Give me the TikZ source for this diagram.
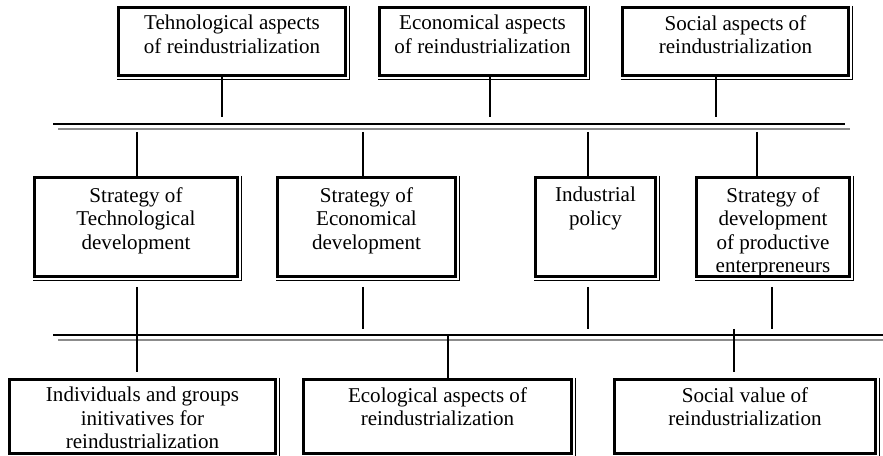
\documentclass[tikz,border=0pt]{standalone}
\usepackage{fontspec}
\setmainfont{Liberation Serif}
\usetikzlibrary{calc}

\tikzset{
  box/.style={draw, line width=2pt, inner sep=0pt},
  boxtext/.style={anchor=north, align=center, inner sep=0pt, font=\fontsize{15.8}{17.6}\selectfont},
  rim/.style={line width=0.6pt},
  link/.style={line width=1pt},
  busline/.style={line width=1.1pt},
  busshade/.style={line width=1.1pt, black!45},
}

\begin{document}
\begin{tikzpicture}[x=0.75pt,y=0.75pt,yscale=-1,xscale=1]
\useasboundingbox (0,0) rectangle (883,456);

%Shape: top row boxes
\node[box, minimum width=170.5pt, minimum height=51.25pt] (tech) at (232,41.5) {};
\node[box, minimum width=154.75pt, minimum height=51.25pt] (econ) at (482.5,41.5) {};
\node[box, minimum width=169.75pt, minimum height=51.25pt] (soc) at (735.5,41.5) {};

%Shape: middle row boxes
\node[box, minimum width=152.5pt, minimum height=74.5pt] (stratT) at (136,227) {};
\node[box, minimum width=133.75pt, minimum height=74.5pt] (stratE) at (366.5,227) {};
\node[box, minimum width=90.25pt, minimum height=74.5pt] (indpol) at (595.5,227) {};
\node[box, minimum width=115pt, minimum height=74.5pt] (stratP) at (773,227) {};

%Shape: bottom row boxes
\node[box, minimum width=199.75pt, minimum height=55.75pt] (indiv) at (142.5,416.5) {};
\node[box, minimum width=201.25pt, minimum height=55.75pt] (ecol) at (437.5,416.5) {};
\node[box, minimum width=196pt, minimum height=55.75pt] (value) at (745,416.5) {};

%Thin outer rim on right and bottom
\foreach \b in {tech,econ,soc,stratT,stratE,indpol,stratP,indiv,ecol,value}
  \draw[rim] ($(\b.north east)+(2,0)$) |- ($(\b.south west)+(0,2)$);

% Text Node
\node[boxtext] (techtx) at ($(tech.north)+(0,9)$) {Tehnological aspects\\of reindustrialization};
% Text Node
\node[boxtext] (econtx) at ($(econ.north)+(0,9)$) {Economical aspects\\of reindustrialization};
% Text Node
\node[boxtext] (soctx) at ($(soc.north)+(0,9)$) {Social aspects of\\reindustrialization};
% Text Node
\node[boxtext] (stratTtx) at ($(stratT.north)+(0,11)$) {Strategy of\\Technological\\development};
% Text Node
\node[boxtext] (stratEtx) at ($(stratE.north)+(0,11)$) {Strategy of\\Economical\\development};
% Text Node
\node[boxtext] (indpoltx) at ($(indpol.north)+(0,11)$) {Industrial\\policy};
% Text Node
\node[boxtext] (stratPtx) at ($(stratP.north)+(0,11)$) {Strategy of\\development\\of productive\\enterpreneurs};
% Text Node
\node[boxtext] (indivtx) at ($(indiv.north)+(0,9)$) {Individuals and groups\\initivatives for\\reindustrialization};
% Text Node
\node[boxtext] (ecoltx) at ($(ecol.north)+(0,9)$) {Ecological aspects of\\reindustrialization};
% Text Node
\node[boxtext] (valuetx) at ($(value.north)+(0,9)$) {Social value of\\reindustrialization};

%Straight Lines: upper bus
\coordinate (busAw) at (53,124);
\coordinate (busAe) at (845,124);
\draw[busline] (busAw) -- (busAe);
\draw[busshade] ($(busAw)+(5,5)$) -- ($(busAe)+(5,5)$);

%Straight Lines: lower bus
\coordinate (busBw) at (53,335);
\coordinate (busBe) at (883,335);
\draw[busline] (busBw) -- (busBe);
\draw[busshade] ($(busBw)+(5,5)$) -- ($(busBe)+(0,5)$);

%Straight Lines: top boxes to upper bus
\coordinate (upTech) at (222,117);
\coordinate (upEcon) at (490,117);
\coordinate (upSoc) at (716,117);
\draw[link] (upTech |- tech.south) -- (upTech);
\draw[link] (upEcon |- econ.south) -- (upEcon);
\draw[link] (upSoc |- soc.south) -- (upSoc);

%Straight Lines: upper bus to middle boxes
\coordinate (dnT) at (137,132);
\coordinate (dnE) at (363,132);
\coordinate (dnI) at (588,132);
\coordinate (dnP) at (757,132);
\draw[link] (dnT) -- (dnT |- stratT.north);
\draw[link] (dnE) -- (dnE |- stratE.north);
\draw[link] (dnI) -- (dnI |- indpol.north);
\draw[link] (dnP) -- (dnP |- stratP.north);

%Straight Lines: middle boxes to lower bus
\coordinate (loT) at (137,287);
\coordinate (endT) at (137,372);
\coordinate (loE) at (363,329);
\coordinate (loI) at (588,329);
\coordinate (loP) at (772,329);
\draw[link] (loT) -- (endT);
\draw[link] (loE |- stratE.south) ++(0,9) -- (loE);
\draw[link] (loI |- indpol.south) ++(0,9) -- (loI);
\draw[link] (loP |- stratP.south) ++(0,9) -- (loP);

%Straight Lines: lower bus to bottom boxes
\coordinate (upEcol) at (448,335);
\coordinate (upVal) at (734,329);
\coordinate (endVal) at (734,372);
\draw[link] (upEcol) -- (upEcol |- ecol.north);
\draw[link] (upVal) -- (endVal);

\end{tikzpicture}
\end{document}
